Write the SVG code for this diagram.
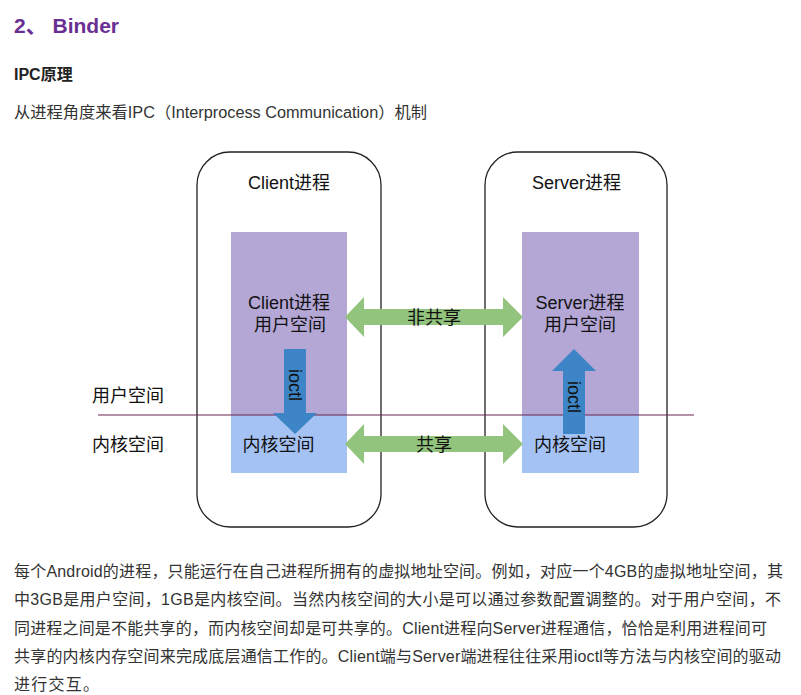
<svg xmlns="http://www.w3.org/2000/svg" width="801" height="695" viewBox="0 0 801 695">
<style>
text{font-family:"Liberation Sans","Noto Sans CJK SC",sans-serif;fill:#222}
.d{font-size:18px;fill:#111}
.p{font-size:16px;fill:#333}
.box{fill:#fff;stroke:#222;stroke-width:1.3}
.user{fill:#b4a7d6}
.kern{fill:#a4c2f4}
.green{fill:#93c47d}
.blue{fill:#3d85c6}
</style>
<rect width="801" height="695" fill="#fff"/>
<g id="header">
<text x="14" y="33" style="font-size:21px;font-weight:bold;fill:#6a2f92">2、 Binder</text>
<text x="14" y="80" style="font-size:16px;font-weight:bold">IPC原理</text>
<text x="14" y="118" class="p" textLength="413" lengthAdjust="spacingAndGlyphs">从进程角度来看IPC（Interprocess Communication）机制</text>
</g>
<g id="client">
<rect class="box" x="197" y="152" width="184" height="375" rx="33"/>
<text class="d" x="289" y="189" text-anchor="middle">Client进程</text>
<rect class="user" x="231" y="232" width="116" height="183"/>
<rect class="kern" x="231" y="415" width="116" height="58"/>
<text class="d" x="289" y="309" text-anchor="middle">Client进程</text>
<text class="d" x="290" y="331" text-anchor="middle">用户空间</text>
<text class="d" x="278.5" y="451" text-anchor="middle">内核空间</text>
</g>
<g id="server">
<rect class="box" x="485" y="152" width="182" height="375" rx="33"/>
<text class="d" x="576.5" y="189" text-anchor="middle">Server进程</text>
<rect class="user" x="522" y="232" width="117" height="183"/>
<rect class="kern" x="522" y="415" width="117" height="58"/>
<text class="d" x="580" y="309" text-anchor="middle">Server进程</text>
<text class="d" x="580" y="331" text-anchor="middle">用户空间</text>
<text class="d" x="570" y="451" text-anchor="middle">内核空间</text>
</g>
<g id="labels">
<text class="d" x="92" y="402">用户空间</text>
<text class="d" x="92" y="451">内核空间</text>
</g>
<g id="connectors">
<line x1="98" y1="415" x2="694" y2="415" stroke="#6b2450" stroke-width="1.2"/>
<polygon class="green" points="345,317 364,297 364,309 503,309 503,297 523,317 503,337 503,325 364,325 364,337"/>
<text class="d" x="434" y="324" text-anchor="middle">非共享</text>
<polygon class="green" points="345,444 364,424 364,436 503,436 503,424 523,444 503,464 503,452 364,452 364,464"/>
<text class="d" x="434" y="451" text-anchor="middle">共享</text>
<polygon class="blue" points="284,349 306,349 306,413 317,413 295,434 273,413 284,413"/>
<text class="d" transform="translate(289,385) rotate(90)" text-anchor="middle">ioctl</text>
<polygon class="blue" points="563,434 585,434 585,371 596,371 574,349 552,371 563,371"/>
<text class="d" transform="translate(568,397) rotate(90)" text-anchor="middle">ioctl</text>
</g>
<g id="paragraph">
<text class="p" x="14" y="577" textLength="769" lengthAdjust="spacing">每个Android的进程，只能运行在自己进程所拥有的虚拟地址空间。例如，对应一个4GB的虚拟地址空间，其</text>
<text class="p" x="14" y="605" textLength="767" lengthAdjust="spacing">中3GB是用户空间，1GB是内核空间。当然内核空间的大小是可以通过参数配置调整的。对于用户空间，不</text>
<text class="p" x="14" y="634" textLength="753" lengthAdjust="spacing">同进程之间是不能共享的，而内核空间却是可共享的。Client进程向Server进程通信，恰恰是利用进程间可</text>
<text class="p" x="14" y="662" textLength="767" lengthAdjust="spacing">共享的内核内存空间来完成底层通信工作的。Client端与Server端进程往往采用ioctl等方法与内核空间的驱动</text>
<text class="p" x="14" y="690" textLength="85" lengthAdjust="spacing">进行交互。</text>
</g>
</svg>
